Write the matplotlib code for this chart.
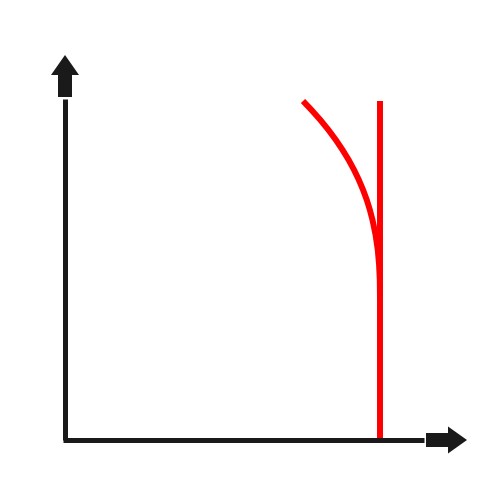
import matplotlib as mpl
mpl.use('Agg')
import matplotlib.pyplot as plt
from matplotlib.patches import FancyArrow

# curve (distance from the origin, in px), smoothed by eye
curve_x = [238, 246.5, 255.4, 263.5, 270.9, 277.6, 283.7, 289.1, 293.9, 298.1,
           301.8, 304.9, 307.5, 310.6, 312.8, 314.1, 314.8, 315]
curve_y = [339, 330, 320, 310, 300, 290, 280, 270, 260, 250,
           240, 230, 220, 205, 190, 175, 160, 140]
# vertical red line
vline_x = 315
vline_y = [0, 339]
# axis lengths
xaxis_len = 359
yaxis_len = 341

black = '#1a1a1a'
red = '#ff0000'

fig = plt.figure(figsize=(5, 5), dpi=100)
ax = fig.add_axes([0, 0, 1, 1])
ax.set_xlim(-65, 435)
ax.set_ylim(-60, 440)
ax.axis('off')

ax.plot(curve_x, curve_y, color=red, linewidth=4.3, solid_capstyle='butt',
        solid_joinstyle='round', zorder=2)
ax.plot([vline_x, vline_x], vline_y, color=red, linewidth=4.3, solid_capstyle='butt', zorder=2)

ax.plot([0, 0], [0, yaxis_len], color=black, linewidth=3.6, solid_capstyle='butt', zorder=3)
ax.plot([-2, xaxis_len], [0, 0], color=black, linewidth=3.6, solid_capstyle='butt', zorder=3)

# arrow heads
ax.add_patch(FancyArrow(0, yaxis_len + 2, 0, 42, width=14, head_width=28, head_length=20,
                        length_includes_head=True, color=black, linewidth=0, zorder=3))
ax.add_patch(FancyArrow(xaxis_len + 2, 0, 41, 0, width=14, head_width=27, head_length=19,
                        length_includes_head=True, color=black, linewidth=0, zorder=3))

plt.savefig('out.png', dpi=100)
